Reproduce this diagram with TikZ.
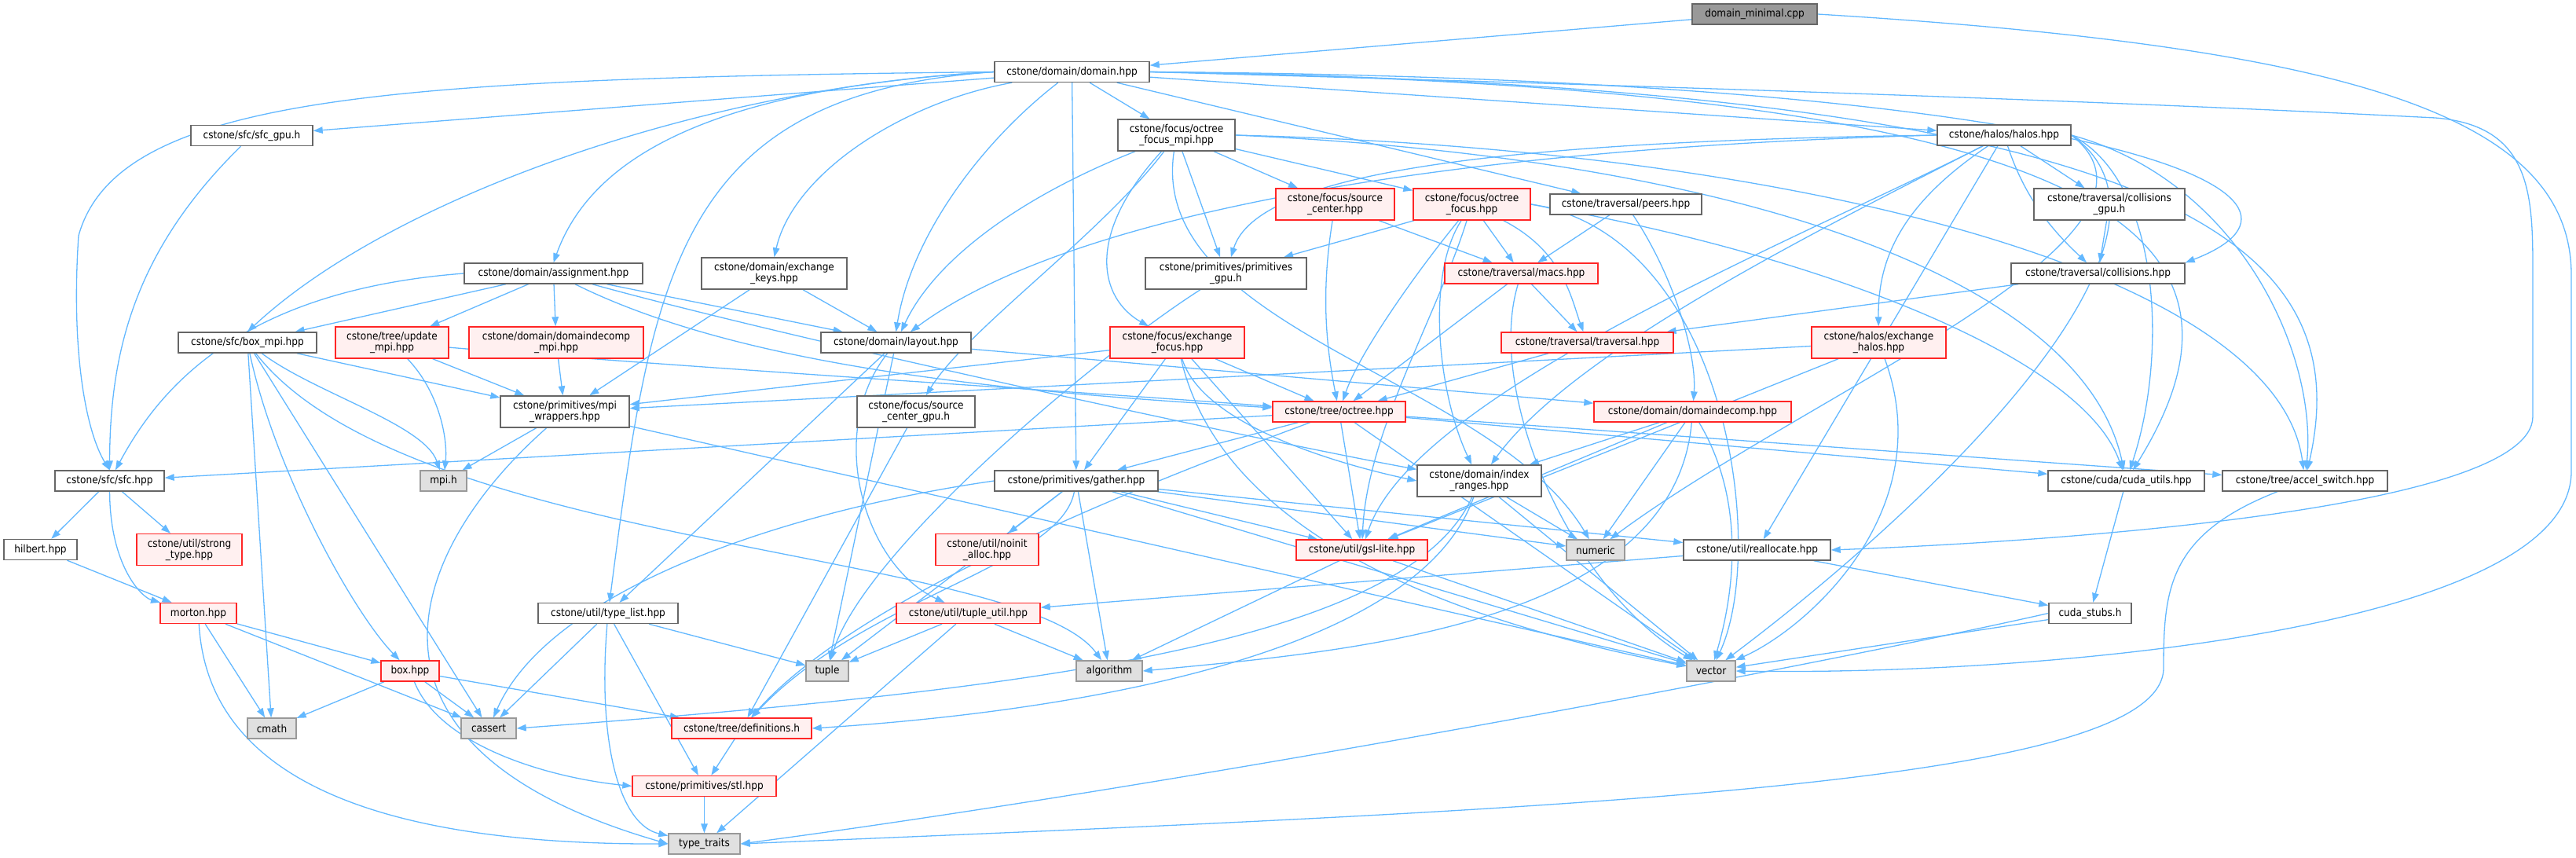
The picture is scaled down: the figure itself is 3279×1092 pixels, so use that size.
\documentclass[tikz,border=0pt]{standalone}
\usepackage{fontspec}
\setmainfont{DejaVu Sans Condensed}
\usetikzlibrary{arrows.meta, backgrounds}
\definecolor{edgeblue}{HTML}{63B8FF}
\definecolor{redfill}{HTML}{FFF0F0}
\definecolor{sysfill}{HTML}{E0E0E0}

\begin{document}
\begin{tikzpicture}[
    x=1pt, y=-1pt,
    file/.style    = {rectangle, draw=black!60, line width=1.4pt, fill=white,
                      minimum height=26pt, inner sep=1pt, align=center,
                      font=\fontsize{13.5}{14}\selectfont},
    twoline/.style = {minimum height=40pt},
    redfile/.style = {file, draw=red!85, fill=redfill},
    sysfile/.style = {file, draw=black!40, fill=sysfill},
    rootfile/.style= {file, draw=black!60, fill=black!40},
    edge/.style    = {-{Stealth[length=12pt, width=8.5pt, inset=0pt]}, line width=1.3pt, edgeblue}
]
\useasboundingbox (0,0) rectangle (3279,1092);

%% -- row 1-4 ----------------------------------------------
\node[rootfile, minimum width=159pt] (dmin)    at (2233.5,18)  {domain\_minimal.cpp};
\node[file, minimum width=197pt]     (domain)  at (1364.5,91.5) {cstone/domain/domain.hpp};
\node[file, minimum width=155pt]     (sfcgpu)  at (320.5,172.5) {cstone/sfc/sfc\_gpu.h};
\node[file, twoline, minimum width=149pt] (ofmpi) at (1497.5,172) {cstone/focus/octree\\\_focus\_mpi.hpp};
\node[file, minimum width=170pt]     (halos)   at (2551,172)   {cstone/halos/halos.hpp};
\node[redfile, twoline, minimum width=151pt] (srcctr) at (1699.5,260) {cstone/focus/source\\\_center.hpp};
\node[redfile, twoline, minimum width=149pt] (ofocus) at (1873.5,260) {cstone/focus/octree\\\_focus.hpp};
\node[file, minimum width=193pt]     (peers)   at (2069.5,260) {cstone/traversal/peers.hpp};
\node[file, twoline, minimum width=192pt] (collgpu) at (2685,260) {cstone/traversal/collisions\\\_gpu.h};

%% -- row 5-7 ----------------------------------------------
\node[file, minimum width=227pt]     (assign)  at (704.5,348)  {cstone/domain/assignment.hpp};
\node[file, twoline, minimum width=185pt] (exkeys) at (985.5,348) {cstone/domain/exchange\\\_keys.hpp};
\node[file, twoline, minimum width=205pt] (primgpu) at (1560.5,348) {cstone/primitives/primitives\\\_gpu.h};
\node[redfile, minimum width=195pt]  (macs)    at (1936.5,348) {cstone/traversal/macs.hpp};
\node[file, minimum width=221pt]     (coll)    at (2670.5,348) {cstone/traversal/collisions.hpp};
\node[file, minimum width=176pt]     (boxmpi)  at (315,436)    {cstone/sfc/box\_mpi.hpp};
\node[redfile, twoline, minimum width=144pt] (updmpi) at (499,436) {cstone/tree/update\\\_mpi.hpp};
\node[redfile, twoline, minimum width=222pt] (ddmpi)  at (708,436) {cstone/domain/domaindecomp\\\_mpi.hpp};
\node[file, minimum width=191pt]     (layout)  at (1140.5,436) {cstone/domain/layout.hpp};
\node[redfile, twoline, minimum width=171pt] (exfocus) at (1498.5,436) {cstone/focus/exchange\\\_focus.hpp};
\node[redfile, minimum width=219pt]  (trav)    at (2020.5,436) {cstone/traversal/traversal.hpp};
\node[redfile, twoline, minimum width=171pt] (exhalos) at (2391.5,436) {cstone/halos/exchange\\\_halos.hpp};
\node[file, twoline, minimum width=164pt] (mpiw)  at (719,524)  {cstone/primitives/mpi\\\_wrappers.hpp};
\node[file, twoline, minimum width=150pt] (srcgpu) at (1166,524) {cstone/focus/source\\\_center\_gpu.h};
\node[redfile, minimum width=169pt]  (octree)  at (1704.5,524) {cstone/tree/octree.hpp};
\node[redfile, minimum width=251pt]  (ddecomp) at (2154.5,524) {cstone/domain/domaindecomp.hpp};

%% -- row 8-10 ---------------------------------------------
\node[file, minimum width=139pt]     (sfc)     at (139.5,612)  {cstone/sfc/sfc.hpp};
\node[sysfile, minimum width=59pt]   (mpih)    at (564.5,612)  {mpi.h};
\node[file, minimum width=208pt]     (gather)  at (1370,612)   {cstone/primitives/gather.hpp};
\node[file, twoline, minimum width=158pt] (idxr) at (1883,612) {cstone/domain/index\\\_ranges.hpp};
\node[file, minimum width=199pt]     (cudau)   at (2706.5,612) {cstone/cuda/cuda\_utils.hpp};
\node[file, minimum width=210pt]     (accsw)   at (2934,612)   {cstone/tree/accel\_switch.hpp};
\node[file, minimum width=93pt]      (hilbert) at (51.5,699.5) {hilbert.hpp};
\node[redfile, twoline, minimum width=134pt] (strong) at (241,699.5) {cstone/util/strong\\\_type.hpp};
\node[redfile, twoline, minimum width=131pt] (noinit) at (1256.5,699.5) {cstone/util/noinit\\\_alloc.hpp};
\node[redfile, minimum width=167pt]  (gsl)     at (1733.5,700) {cstone/util/gsl-lite.hpp};
\node[sysfile, minimum width=74pt]   (numeric) at (2031,700)   {numeric};
\node[file, minimum width=187pt]     (realloc) at (2236.5,700) {cstone/util/reallocate.hpp};
\node[redfile, minimum width=97pt]   (morton)  at (252.5,780.5) {morton.hpp};
\node[file, minimum width=178pt]     (typelist) at (774,780.5) {cstone/util/type\_list.hpp};
\node[redfile, minimum width=183pt]  (tupleu)  at (1232.5,780.5) {cstone/util/tuple\_util.hpp};
\node[file, minimum width=105pt]     (stubs)   at (2660.5,780.5) {cuda\_stubs.h};

%% -- row 11-14 --------------------------------------------
\node[redfile, minimum width=74pt]   (box)     at (522,854)    {box.hpp};
\node[sysfile, minimum width=54pt]   (tuple)   at (1053,854)   {tuple};
\node[sysfile, minimum width=84pt]   (algo)    at (1412,854)   {algorithm};
\node[sysfile, minimum width=62pt]   (vector)  at (2178,854)   {vector};
\node[sysfile, minimum width=62pt]   (cmath)   at (346,927)    {cmath};
\node[sysfile, minimum width=70pt]   (cassert) at (622,927)    {cassert};
\node[redfile, minimum width=178pt]  (defs)    at (944,927)    {cstone/tree/definitions.h};
\node[redfile, minimum width=183pt]  (stl)     at (896.5,1000.5) {cstone/primitives/stl.hpp};
\node[sysfile, minimum width=91pt]   (ttraits) at (896.5,1074) {type\_traits};

\begin{scope}[on background layer]
%% -- edges: root and domain.hpp -----------------------------
\draw[edge] (dmin) -- (domain);
\draw[edge] (dmin.east) .. controls (3000,60) and (3273,150) .. (3273,350) -- (3273,600)
            .. controls (3273,800) and (2600,860) .. (vector.east);
\draw[edge] (domain) -- (sfcgpu);
\draw[edge] (domain.west) .. controls (500,100) and (150,120) .. (100,300)
            .. controls (90,450) and (110,550) .. (sfc.north);
\draw[edge] (domain.west) .. controls (900,110) and (500,250) .. (boxmpi.north);
\draw[edge] (domain.west) .. controls (950,110) and (760,180) .. (assign.north);
\draw[edge] (domain) .. controls (1150,130) and (1010,220) .. (exkeys.north);
\draw[edge] (domain) .. controls (1250,180) and (1160,300) .. (layout.north);
\draw[edge] (domain) -- (ofmpi);
\draw[edge] (domain) -- (gather);
\draw[edge] (domain.west) .. controls (860,120) and (830,350) .. (typelist);
\draw[edge] (domain) -- (peers);
\draw[edge] (domain) -- (halos);
\draw[edge] (domain.east) .. controls (2700,100) and (3000,250) .. (coll.north east);
\draw[edge] (domain.east) .. controls (2700,110) and (2900,300) .. (cudau);
\draw[edge] (domain.east) .. controls (2800,110) and (3000,320) .. (accsw);
\draw[edge] (domain.east) .. controls (2500,120) and (2900,140) .. (3100,150)
            .. controls (3224,160) and (3224,250) .. (3224,350) -- (3224,530)
            .. controls (3224,650) and (2600,690) .. (realloc.east);

%% -- edges: second rank ---------------------------------------
\draw[edge] (sfcgpu) .. controls (170,320) and (140,450) .. (sfc.north);
\draw[edge] (ofmpi) .. controls (1300,250) and (1190,330) .. (layout);
\draw[edge] (ofmpi) .. controls (1400,300) and (1230,420) .. (srcgpu);
\draw[edge] (ofmpi) .. controls (1380,300) and (1400,380) .. (exfocus);
\draw[edge] (ofmpi) -- (primgpu);
\draw[edge] (ofmpi) -- (srcctr);
\draw[edge] (ofmpi) -- (ofocus);
\draw[edge] (ofmpi.east) .. controls (2200,200) and (2650,350) .. (cudau);
\draw[edge] (ofmpi.east) .. controls (2300,190) and (2900,350) .. (accsw);
\draw[edge] (ofmpi) .. controls (1460,420) and (1900,480) .. (numeric);
\draw[edge] (halos) -- (collgpu);
\draw[edge] (halos) .. controls (2580,260) and (2620,300) .. (coll);
\draw[edge] (halos) .. controls (2420,260) and (2390,330) .. (exhalos);
\draw[edge] (halos.west) .. controls (1800,190) and (1350,280) .. (layout);
\draw[edge] (halos.west) .. controls (1900,180) and (1600,220) .. (primgpu);
\draw[edge] (halos) .. controls (2300,300) and (2000,450) .. (idxr);
\draw[edge] (halos) .. controls (2300,300) and (1800,500) .. (gsl);
\draw[edge] (halos) -- (realloc);
\draw[edge] (halos.east) .. controls (2750,230) and (2760,450) .. (cudau);
\draw[edge] (halos.east) .. controls (2850,230) and (2950,450) .. (accsw);
\draw[edge] (halos.east) .. controls (2800,300) and (2300,500) .. (numeric);
\draw[edge] (halos.east) .. controls (2820,300) and (2450,650) .. (vector);

%% -- edges: focus and traversal --------------------------------
\draw[edge] (srcctr) -- (macs);
\draw[edge] (srcctr) .. controls (1680,380) and (1690,450) .. (octree);
\draw[edge] (ofocus) -- (primgpu);
\draw[edge] (ofocus) -- (macs);
\draw[edge] (ofocus) .. controls (1990,320) and (2000,380) .. (trav);
\draw[edge] (ofocus) .. controls (1800,350) and (1730,450) .. (octree);
\draw[edge] (ofocus) .. controls (1830,400) and (1740,550) .. (gsl);
\draw[edge] (ofocus) .. controls (1815,350) and (1830,500) .. (idxr);
\draw[edge] (ofocus.east) .. controls (2300,320) and (2650,450) .. (cudau);
\draw[edge] (ofocus.east) .. controls (2200,300) and (2250,700) .. (vector);
\draw[edge] (peers) -- (macs);
\draw[edge] (peers) .. controls (2130,350) and (2160,450) .. (ddecomp);
\draw[edge] (collgpu) -- (coll);
\draw[edge] (macs) -- (trav);
\draw[edge] (macs) -- (octree);
\draw[edge] (macs) .. controls (1890,500) and (2000,750) .. (vector);
\draw[edge] (coll) -- (trav);
\draw[edge] (trav) -- (octree);
\draw[edge] (primgpu) .. controls (1400,450) and (1100,700) .. (tuple);

%% -- edges: domain and mpi -------------------------------------
\draw[edge] (assign.west) .. controls (300,370) and (200,500) .. (sfc);
\draw[edge] (assign) -- (boxmpi);
\draw[edge] (assign) -- (updmpi);
\draw[edge] (assign) -- (ddmpi);
\draw[edge] (assign) -- (layout);
\draw[edge] (assign) .. controls (950,470) and (1300,500) .. (octree);
\draw[edge] (assign) .. controls (1000,430) and (1600,560) .. (idxr);
\draw[edge] (exkeys) -- (mpiw);
\draw[edge] (exkeys) -- (layout);
\draw[edge] (boxmpi) -- (mpiw);
\draw[edge] (boxmpi) .. controls (400,500) and (540,540) .. (mpih);
\draw[edge] (boxmpi) .. controls (350,600) and (450,780) .. (box);
\draw[edge] (boxmpi) -- (cassert);
\draw[edge] (boxmpi) -- (cmath);
\draw[edge] (boxmpi) .. controls (520,700) and (1300,700) .. (algo);
\draw[edge] (updmpi) -- (mpiw);
\draw[edge] (updmpi) .. controls (560,500) and (570,560) .. (mpih);
\draw[edge] (updmpi) .. controls (900,470) and (1400,500) .. (octree);
\draw[edge] (ddmpi) -- (mpiw);
\draw[edge] (layout) -- (typelist);
\draw[edge] (layout) -- (tuple);
\draw[edge] (layout) -- (ddecomp);
\draw[edge] (layout) .. controls (1050,550) and (1100,720) .. (tupleu);
\draw[edge] (exfocus) -- (mpiw);
\draw[edge] (exfocus) -- (gather);
\draw[edge] (exfocus) -- (octree);
\draw[edge] (exfocus) .. controls (1530,540) and (1700,590) .. (idxr.west);
\draw[edge] (exfocus) -- (gsl);
\draw[edge] (exfocus) .. controls (1560,700) and (1900,800) .. (vector);
\draw[edge] (exhalos) -- (mpiw);
\draw[edge] (exhalos) -- (gsl);
\draw[edge] (exhalos) .. controls (2470,650) and (2300,800) .. (vector);
\draw[edge] (srcgpu) -- (defs);

%% -- edges: octree and below ------------------------------------
\draw[edge] (octree) -- (gather);
\draw[edge] (octree) -- (gsl);
\draw[edge] (octree) -- (sfc);
\draw[edge] (octree) -- (cudau);
\draw[edge] (octree) -- (accsw);
\draw[edge] (octree) -- (vector);
\draw[edge] (octree) .. controls (1500,600) and (1100,750) .. (defs);
\draw[edge] (ddecomp) -- (idxr);
\draw[edge] (ddecomp) -- (gsl);
\draw[edge] (ddecomp) -- (numeric);
\draw[edge] (ddecomp) .. controls (2130,800) and (1700,830) .. (algo.east);
\draw[edge] (ddecomp) .. controls (2230,650) and (2200,780) .. (vector);
\draw[edge] (mpiw) -- (mpih);
\draw[edge] (mpiw) .. controls (520,700) and (420,950) .. (ttraits.west);
\draw[edge] (mpiw) -- (vector);
\draw[edge] (sfc) -- (hilbert);
\draw[edge] (sfc) .. controls (140,720) and (180,760) .. (morton);
\draw[edge] (sfc) -- (strong);
\draw[edge] (hilbert) -- (morton);
\draw[edge] (gather) -- (noinit);
\draw[edge] (gather) -- (algo);
\draw[edge] (gather) -- (gsl);
\draw[edge] (gather) -- (numeric);
\draw[edge] (gather) -- (realloc);
\draw[edge] (gather) -- (vector);
\draw[edge] (gather) -- (tuple);
\draw[edge] (gather.west) .. controls (1000,650) and (700,750) .. (cassert);
\draw[edge] (gather) .. controls (1350,720) and (1100,760) .. (defs);
\draw[edge] (idxr) -- (numeric);
\draw[edge] (idxr) -- (vector);
\draw[edge] (idxr) .. controls (1790,820) and (1300,880) .. (cassert.east);
\draw[edge] (idxr) .. controls (1800,850) and (1300,910) .. (defs.east);
\draw[edge] (gsl) -- (algo);
\draw[edge] (gsl) -- (vector);
\draw[edge] (realloc) -- (stubs);
\draw[edge] (realloc) -- (tupleu);
\draw[edge] (cudau) -- (stubs);
\draw[edge] (stubs) -- (vector);
\draw[edge] (stubs.west) .. controls (2300,850) and (1500,1000) .. (ttraits.east);
\draw[edge] (accsw) .. controls (2760,680) and (2754,750) .. (2754,850)
            .. controls (2754,1000) and (2000,1030) .. (ttraits.east);
\draw[edge] (morton) -- (box);
\draw[edge] (morton) -- (cmath);
\draw[edge] (morton) -- (cassert);
\draw[edge] (morton) .. controls (265,1000) and (500,1075) .. (ttraits.west);
\draw[edge] (box) -- (cmath);
\draw[edge] (box) -- (cassert);
\draw[edge] (box) -- (defs);
\draw[edge] (box) .. controls (560,950) and (700,990) .. (stl.west);
\draw[edge] (defs) -- (stl);
\draw[edge] (stl) -- (ttraits);
\draw[edge] (typelist) -- (tuple);
\draw[edge] (typelist) -- (cassert);
\draw[edge] (typelist) .. controls (760,950) and (790,1050) .. (ttraits);
\draw[edge] (typelist) -- (stl);
\draw[edge] (tupleu) -- (tuple);
\draw[edge] (tupleu) -- (algo);
\draw[edge] (tupleu) -- (ttraits);
\end{scope}

\end{tikzpicture}
\end{document}
